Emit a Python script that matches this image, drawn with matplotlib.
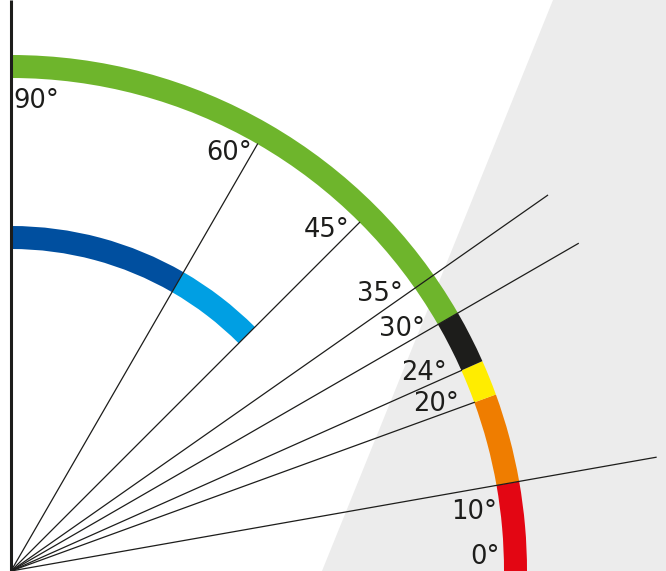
import numpy as np
import matplotlib
matplotlib.use("Agg")
import matplotlib.pyplot as plt
from matplotlib.patches import Wedge, Polygon

# Outer band: angle bounds (degrees) and colours of each segment
outer_bounds = [0, 10, 20, 24, 30, 90]
outer_colors = ["#e30613", "#ef7d00", "#ffed00", "#1d1d1b", "#6eb52c"]

# Inner band
inner_bounds = [45, 60, 90]
inner_colors = ["#009fe3", "#004f9f"]

# Guide lines from the origin
line_angles = [10, 20, 24, 30, 35, 45, 60]
long_lines = [10, 30, 35]

# Labels
label_angles = [0, 10, 20, 24, 30, 35, 45, 60, 90]
labels = [f"{a}°" for a in label_angles]

ink = "#1d1d1b"
R_OUT, W_OUT = 516, 23
R_IN, W_IN = 345, 23

fig = plt.figure(figsize=(6.66, 5.71), dpi=100)
ax = fig.add_axes([0, 0, 1, 1])
ax.set_xlim(-11, 655)
ax.set_ylim(0, 571)
ax.axis("off")

# grey background band
ax.add_patch(Polygon([(311, 0), (542, 571), (700, 571), (700, 0)],
                     closed=True, facecolor="#ececec", edgecolor="none", zorder=0))

# coloured arcs
for (t1, t2), c in zip(zip(outer_bounds[:-1], outer_bounds[1:]), outer_colors):
    ax.add_patch(Wedge((0, 0), R_OUT, t1, t2, width=W_OUT, facecolor=c,
                       edgecolor="none", zorder=2))
for (t1, t2), c in zip(zip(inner_bounds[:-1], inner_bounds[1:]), inner_colors):
    ax.add_patch(Wedge((0, 0), R_IN, t1, t2, width=W_IN, facecolor=c,
                       edgecolor="none", zorder=2))

# guide lines
for a in line_angles:
    r = 655 if a in long_lines else R_OUT - W_OUT
    t = np.radians(a)
    ax.plot([0, r * np.cos(t)], [0, r * np.sin(t)], color=ink, lw=0.9, zorder=3)

# vertical axis
ax.plot([0, 0], [0, 571], color=ink, lw=2.2, zorder=4, solid_capstyle="butt")

# angle labels
for a, s in zip(label_angles, labels):
    if a == 90:
        x, y, ha = 2, 463, "left"
    elif a == 10:
        t = np.radians(6.1)
        x, y, ha = 489 * np.cos(t), 489 * np.sin(t), "right"
    elif a == 0:
        x, y, ha = 489, 7, "right"
    else:
        t = np.radians(a - 0.4)
        x, y, ha = 476 * np.cos(t), 476 * np.sin(t), "right"
    ax.text(x, y, s, ha=ha, va="baseline", fontsize=18.5, color=ink,
            family="DejaVu Sans", zorder=5)

fig.savefig("out.png", dpi=100)
